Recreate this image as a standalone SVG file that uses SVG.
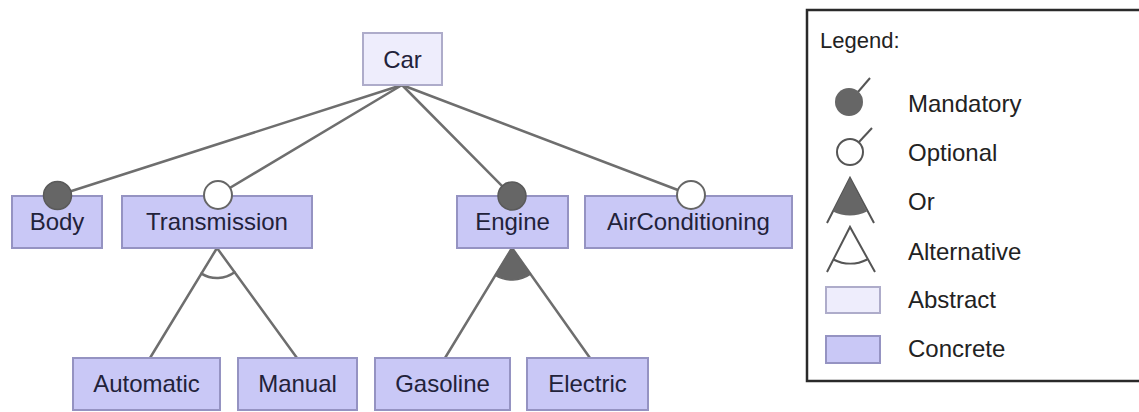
<svg xmlns="http://www.w3.org/2000/svg" width="1139" height="412" viewBox="0 0 1139 412">
<style>
.abs{fill:#eeedfc;stroke:#aeacca;stroke-width:2}
.con{fill:#c9c8f6;stroke:#9593c2;stroke-width:2}
.t{font-family:"Liberation Sans",Arial,sans-serif;font-size:24px;fill:#22223a;text-anchor:middle}
.lt{font-family:"Liberation Sans",Arial,sans-serif;font-size:24px;fill:#222;}
.ln{stroke:#6e6e6e;stroke-width:2.5;fill:none;stroke-linecap:round}
.mand{fill:#666;stroke:#5a5a5a;stroke-width:1.5}
.opt{fill:#fff;stroke:#666;stroke-width:2}
.sym{stroke:#555;stroke-width:2;fill:none}
</style>
<rect width="1139" height="412" fill="#fff"/>
<g id="connectors">
<line class="ln" x1="402" y1="85" x2="57.5" y2="195.5"/>
<line class="ln" x1="402" y1="85" x2="218" y2="195"/>
<line class="ln" x1="402" y1="85" x2="512" y2="196"/>
<line class="ln" x1="402" y1="85" x2="691" y2="195"/>
<line class="ln" x1="217" y1="248" x2="150" y2="358"/>
<line class="ln" x1="217" y1="248" x2="297" y2="358"/>
<path class="ln" d="M201.4 273.6 A30 30 0 0 0 234.6 272.3"/>
<line class="ln" x1="512" y1="248" x2="445" y2="358"/>
<line class="ln" x1="512" y1="248" x2="590" y2="358"/>
<path d="M512 248 L495.4 275.3 A32 32 0 0 0 530.5 274.1 Z" fill="#666" stroke="#666" stroke-width="1.5"/>
</g>
<g id="car"><rect class="abs" x="363" y="33" width="79" height="52"/><text class="t" x="402.5" y="68">Car</text></g>
<g id="body"><rect class="con" x="12" y="196" width="90" height="52"/><text class="t" x="57" y="230">Body</text></g>
<g id="transmission"><rect class="con" x="122" y="196" width="190" height="52"/><text class="t" x="217" y="230">Transmission</text></g>
<g id="engine"><rect class="con" x="457" y="196" width="111" height="52"/><text class="t" x="512.5" y="230">Engine</text></g>
<g id="airconditioning"><rect class="con" x="585" y="196" width="207" height="52"/><text class="t" x="688.5" y="230">AirConditioning</text></g>
<g id="automatic"><rect class="con" x="73" y="358" width="147" height="52"/><text class="t" x="146.5" y="392">Automatic</text></g>
<g id="manual"><rect class="con" x="238" y="358" width="119" height="52"/><text class="t" x="297.5" y="392">Manual</text></g>
<g id="gasoline"><rect class="con" x="375" y="358" width="135" height="52"/><text class="t" x="442.5" y="392">Gasoline</text></g>
<g id="electric"><rect class="con" x="527" y="358" width="121" height="52"/><text class="t" x="587.5" y="392">Electric</text></g>
<g id="decorators">
<circle class="mand" cx="57.5" cy="195.5" r="14"/>
<circle class="opt" cx="218" cy="195" r="14"/>
<circle class="mand" cx="512" cy="196" r="14"/>
<circle class="opt" cx="691" cy="195" r="14"/>
</g>
<g id="legend">
<rect x="807" y="10" width="340" height="371" fill="#fff" stroke="#2a2a2a" stroke-width="2.5"/>
<text class="lt" x="820" y="48" style="font-size:22px">Legend:</text>
<line class="sym" x1="858" y1="92" x2="870" y2="78"/>
<circle cx="849" cy="102" r="14" fill="#666"/>
<text class="lt" x="908" y="112">Mandatory</text>
<line class="sym" x1="859" y1="142" x2="872" y2="128"/>
<circle cx="850" cy="152" r="13" fill="#fff" stroke="#555" stroke-width="2"/>
<text class="lt" x="908" y="161">Optional</text>
<path class="sym" d="M827 223 L850 178 L874 223"/>
<path d="M850 178 L832.9 211.4 A37.5 37.5 0 0 0 867 211.4 Z" fill="#666"/>
<text class="lt" x="908" y="210">Or</text>
<path class="sym" d="M827 272 L850 227 L875 272"/>
<path class="sym" d="M833.4 259.5 A37 37 0 0 0 867.2 259.5"/>
<text class="lt" x="908" y="260">Alternative</text>
<rect class="abs" x="826" y="287" width="54" height="26"/>
<text class="lt" x="908" y="308">Abstract</text>
<rect class="con" x="826" y="336" width="54" height="27"/>
<text class="lt" x="908" y="357">Concrete</text>
</g>
</svg>
